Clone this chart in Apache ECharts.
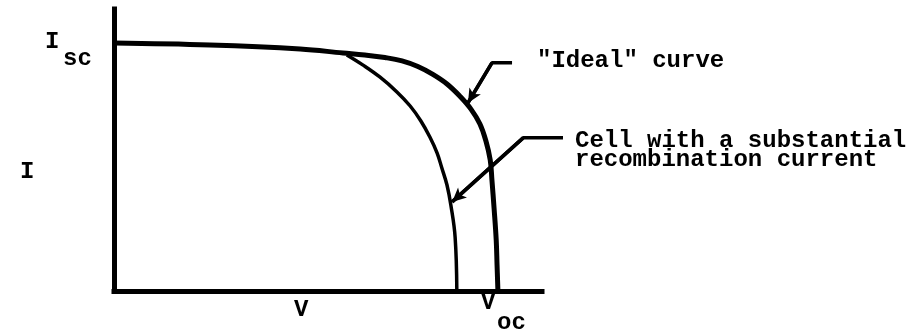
<!DOCTYPE html>
<html>
<head>
<meta charset="utf-8">
<script src="https://cdn.jsdelivr.net/npm/echarts@6/dist/echarts.min.js"></script>
<style>
html,body{margin:0;padding:0;background:#fff;}
#chart{width:914px;height:332px;}
</style>
</head>
<body>
<div id="chart"></div>
<script>
// Voltage (x) and current (y) in relative units (0-100)
var idealV = [0, 22.4, 43.5, 53.5, 58.6, 63.3, 67.3, 71.0, 74.5, 77.8, 80.8, 83.4, 85.5, 86.9, 87.9, 88.3, 88.8, 89.3, 89.5, 89.7];
var idealI = [87.9, 87.2, 85.8, 84.4, 83.7, 82.8, 81.6, 79.6, 76.8, 73.4, 69.1, 64.5, 59.2, 53.2, 46.5, 39.4, 29.4, 18.1, 9.2, 0];
var recombV = [54.4, 58.2, 62.1, 66.1, 69.2, 71.7, 73.8, 75.5, 76.6, 77.8, 78.7, 79.7, 80.1];
var recombI = [83.7, 80.1, 75.9, 70.6, 65.6, 60.3, 54.6, 48.9, 43.6, 37.6, 30.5, 19.1, 0];
// annotation leader lines (start, elbow, arrow tip)
var arrowIdealV = [93.0, 88.3, 82.7];
var arrowIdealI = [80.9, 80.9, 66.7];
var arrowRecombV = [104.9, 95.6, 79.0];
var arrowRecombI = [54.3, 54.3, 31.6];
var labelIdeal = '"Ideal" curve';
var labelRecomb = 'Cell with a substantial\nrecombination current';

function pairs(xs, ys) { return xs.map(function (x, i) { return [x, ys[i]]; }); }

var FONT = '"Liberation Mono", "DejaVu Sans Mono", monospace';
var chart = echarts.init(document.getElementById('chart'));

function arrowSeries(xs, ys) {
  var pts = pairs(xs, ys);
  return {
    type: 'line', data: pts, symbol: 'none', silent: true,
    xAxisIndex: 1, yAxisIndex: 1,
    lineStyle: { color: '#000', width: 3.5 },
    markLine: {
      silent: true, symbol: ['none', 'arrow'], symbolSize: [10, 14],
      label: { show: false },
      lineStyle: { color: '#000', width: 3.5, type: 'solid' },
      data: [[{ coord: pts[1] }, { coord: pts[2] }]]
    }
  };
}

var axisCommon = {
  type: 'value', min: 0, max: 100,
  axisLine: { show: true, lineStyle: { color: '#000', width: 5, cap: 'square' } },
  axisTick: { show: false }, axisLabel: { show: false }, splitLine: { show: false }
};
var hiddenAxis = function (max, idx) {
  return { type: 'value', min: 0, max: max, gridIndex: idx, show: false };
};

chart.setOption({
  animation: false,
  backgroundColor: '#fff',
  grid: [
    { left: 114, top: 9, width: 428, height: 282 },
    // same scale as the main grid, extended to the right for the annotations
    { left: 114, top: 9, width: 428 * 1.2, height: 282 }
  ],
  xAxis: [axisCommon, hiddenAxis(120, 1)],
  yAxis: [axisCommon, hiddenAxis(100, 1)],
  series: [
    { type: 'line', data: pairs(idealV, idealI), symbol: 'none', smooth: 0.4,
      lineStyle: { color: '#000', width: 5, join: 'round' } },
    { type: 'line', data: pairs(recombV, recombI), symbol: 'none', smooth: 0.4,
      lineStyle: { color: '#000', width: 3.5, join: 'round' } },
    arrowSeries(arrowIdealV, arrowIdealI),
    arrowSeries(arrowRecombV, arrowRecombI)
  ],
  graphic: [
    { type: 'text', left: 45, top: 30, style: { text: 'I', font: 'bold 24px ' + FONT, fill: '#000' } },
    { type: 'text', left: 63, top: 47, style: { text: 'sc', font: 'bold 24px ' + FONT, fill: '#000' } },
    { type: 'text', left: 20, top: 160, style: { text: 'I', font: 'bold 24px ' + FONT, fill: '#000' } },
    { type: 'text', left: 294, top: 298, style: { text: 'V', font: 'bold 24px ' + FONT, fill: '#000' } },
    { type: 'text', left: 481, top: 291, style: { text: 'V', font: 'bold 24px ' + FONT, fill: '#000' } },
    { type: 'text', left: 497, top: 311, style: { text: 'oc', font: 'bold 24px ' + FONT, fill: '#000' } },
    { type: 'text', left: 537, top: 49, style: { text: labelIdeal, font: 'bold 24px ' + FONT, fill: '#000' } },
    { type: 'text', left: 575, top: 129, style: { text: labelRecomb, font: 'bold 24px ' + FONT, lineHeight: 19, fill: '#000' } }
  ]
});
</script>
</body>
</html>
